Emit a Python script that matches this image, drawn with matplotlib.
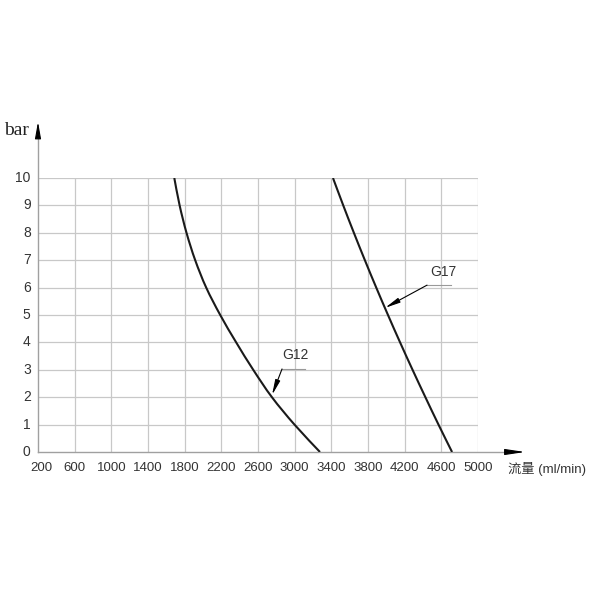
import matplotlib
matplotlib.use("Agg")
import matplotlib.pyplot as plt
from matplotlib.path import Path
from matplotlib.patches import PathPatch
import numpy as np

# pressure (bar) vs flow (ml/min)
pressure = [10, 9, 8, 7, 6, 5, 4, 3, 2, 1, 0]
flow_g12 = [1687, 1745, 1820, 1915, 2035, 2188, 2362, 2548, 2752, 2998, 3276]
flow_g17 = [3418, 3530, 3646, 3766, 3890, 4018, 4150, 4286, 4426, 4569, 4717]

x_ticks = [200, 600, 1000, 1400, 1800, 2200, 2600, 3000, 3400, 3800, 4200, 4600, 5000]
y_ticks = [0, 1, 2, 3, 4, 5, 6, 7, 8, 9, 10]

narrow = ["Liberation Sans", "DejaVu Sans"]
grid_c = "#c8c8c8"


def smooth_path(xs, ys):
    # catmull-rom through the read points, drawn as bezier segments
    p = np.column_stack([xs, ys]).astype(float)
    p = np.vstack([p[0], p, p[-1]])
    verts = [p[1]]
    codes = [Path.MOVETO]
    for i in range(1, len(p) - 2):
        c1 = p[i] + (p[i + 1] - p[i - 1]) / 6
        c2 = p[i + 1] - (p[i + 2] - p[i]) / 6
        verts += [c1, c2, p[i + 1]]
        codes += [Path.CURVE4] * 3
    return Path(verts, codes)


fig = plt.figure(figsize=(6, 6), dpi=100)
ax = fig.add_axes([38 / 600, 1 - 452 / 600, 440 / 600, 274 / 600])
ax.set_xlim(200, 5000)
ax.set_ylim(0, 10)

for s in ax.spines.values():
    s.set_visible(False)

# grid
for xv in x_ticks[1:]:
    ax.plot([xv, xv], [0, 10], color=grid_c, lw=0.9, zorder=1)
for yv in y_ticks[1:]:
    ax.plot([200, 5000], [yv, yv], color=grid_c, lw=0.9, zorder=1)

# axes with arrows
ax.plot([200, 5380], [0, 0], color="#a0a0a0", lw=1.0, clip_on=False, zorder=2)
ax.plot([200, 200], [0, 11.6], color="#a0a0a0", lw=1.0, clip_on=False, zorder=2)
ax.annotate("", xy=(5513, 0), xytext=(5330, 0),
            arrowprops=dict(arrowstyle="-|>,head_length=1.2,head_width=0.18",
                            color="black", lw=0.8, shrinkA=0, shrinkB=0),
            annotation_clip=False)
ax.annotate("", xy=(200, 12.05), xytext=(200, 11.5),
            arrowprops=dict(arrowstyle="-|>,head_length=1.0,head_width=0.18",
                            color="black", lw=0.8, shrinkA=0, shrinkB=0),
            annotation_clip=False)

for fl in (flow_g12, flow_g17):
    ax.add_patch(PathPatch(smooth_path(fl, pressure), facecolor="none",
                           edgecolor="#1a1a1a", lw=1.5, zorder=3))

ax.set_xticks(x_ticks)
ax.set_yticks(y_ticks)
ax.set_xticklabels([])
ax.set_yticklabels([])
ax.tick_params(length=0)

for xv in x_ticks:
    xp = xv + 40 if xv == 200 else xv
    ax.text(xp, -0.36, str(xv), ha="center", va="top", fontsize=9.5,
            family=narrow, color="#333333")
for yv in y_ticks:
    ax.text(120, yv, str(yv), ha="right", va="center", fontsize=10,
            family=narrow, color="#333333")

ax.text(5328, -0.36, "流量 (ml/min)", ha="left", va="top", fontsize=9.5,
        family=["Liberation Sans", "Noto Sans CJK SC", "DejaVu Sans"],
        color="#333333")
ax.text(-170, 11.75, "bar", ha="left", va="center", fontsize=14,
        family=["Liberation Serif", "DejaVu Serif"], color="#222222")

# leader lines with labels
ax.plot([2862, 3113], [3.03, 3.03], color="#999999", lw=0.8, zorder=2)
ax.annotate("", xy=(2753, 2.08), xytext=(2862, 3.03),
            arrowprops=dict(arrowstyle="-|>,head_length=0.9,head_width=0.15",
                            color="black", lw=0.8, shrinkA=0, shrinkB=0))
ax.text(3004, 3.54, "G12", ha="center", va="center", fontsize=10,
        family=narrow, color="#333333")

ax.plot([4444, 4706], [6.09, 6.09], color="#999999", lw=0.8, zorder=2)
ax.annotate("", xy=(3986, 5.26), xytext=(4444, 6.09),
            arrowprops=dict(arrowstyle="-|>,head_length=0.9,head_width=0.15",
                            color="black", lw=0.8, shrinkA=0, shrinkB=0))
ax.text(4618, 6.57, "G17", ha="center", va="center", fontsize=10,
        family=narrow, color="#333333")

fig.savefig("out.png", dpi=100)
